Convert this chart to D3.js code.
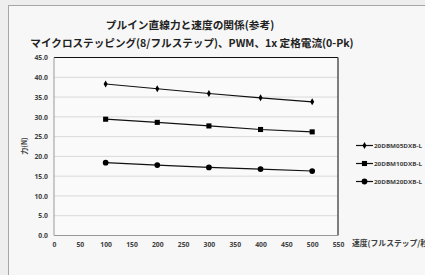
<!DOCTYPE html>
<html>
<head>
<meta charset="utf-8">
<script src="https://cdn.jsdelivr.net/npm/d3@7"></script>
<style>
  html, body { margin: 0; padding: 0; background: #eeeeee; }
  svg { display: block; font-family: "Noto Sans CJK JP", "Noto Sans", sans-serif; }
</style>
</head>
<body>
<svg id="chart" width="425" height="275"></svg>
<script>
// chart values
var speeds = [100, 200, 300, 400, 500];
var series05 = [38.3, 37.1, 35.9, 34.8, 33.8];
var series10 = [29.4, 28.6, 27.7, 26.8, 26.2];
var series20 = [18.4, 17.8, 17.2, 16.8, 16.3];
var seriesNames = ["20DBM05DXB-L", "20DBM10DXB-L", "20DBM20DXB-L"];
var xTicks = [0, 50, 100, 150, 200, 250, 300, 350, 400, 450, 500, 550];
var yTicks = [0, 5, 10, 15, 20, 25, 30, 35, 40, 45];

var svg = d3.select("#chart");

// outer chart frame
svg.append("rect").attr("x", 8.5).attr("y", 5.5).attr("width", 430).attr("height", 280)
	.attr("fill", "#f7f7f7").attr("stroke", "#a6a6a6").attr("stroke-width", 1);

var plot = {left: 54, right: 338, top: 57.5, bottom: 235.5};

var x = d3.scaleLinear().domain([0, 550]).range([plot.left, plot.right]);
var y = d3.scaleLinear().domain([0, 45]).range([plot.bottom, plot.top]);

// plot area
svg.append("rect").attr("x", plot.left).attr("y", plot.top)
	.attr("width", plot.right - plot.left).attr("height", plot.bottom - plot.top)
	.attr("fill", "#fafafa");

// gridlines
svg.append("g").selectAll("line").data(yTicks.slice(1, -1)).enter().append("line")
	.attr("x1", plot.left).attr("x2", plot.right)
	.attr("y1", function(d){ return y(d); }).attr("y2", function(d){ return y(d); })
	.attr("stroke", "#d9d9d9").attr("stroke-width", 1);

// plot borders
svg.append("line").attr("x1", plot.left).attr("x2", plot.right).attr("y1", plot.top).attr("y2", plot.top)
	.attr("stroke", "#111").attr("stroke-width", 1);
svg.append("line").attr("x1", plot.right).attr("x2", plot.right).attr("y1", plot.top).attr("y2", plot.bottom)
	.attr("stroke", "#555").attr("stroke-width", 1.5);
svg.append("line").attr("x1", plot.left).attr("x2", plot.left).attr("y1", plot.top).attr("y2", plot.bottom)
	.attr("stroke", "#999").attr("stroke-width", 1);
svg.append("line").attr("x1", plot.left).attr("x2", plot.right).attr("y1", plot.bottom).attr("y2", plot.bottom)
	.attr("stroke", "#999").attr("stroke-width", 1);

// axes
var xAxis = svg.append("g").attr("transform", "translate(0," + plot.bottom + ")")
	.call(d3.axisBottom(x).tickValues(xTicks).tickSize(0).tickPadding(7).tickFormat(d3.format("d")));
var yAxis = svg.append("g").attr("transform", "translate(" + plot.left + ",0)")
	.call(d3.axisLeft(y).tickValues(yTicks).tickSize(0).tickPadding(6).tickFormat(d3.format(".1f")));
[xAxis, yAxis].forEach(function(a){
	a.select(".domain").remove();
	a.selectAll("text").attr("font-size", 6.8).attr("font-weight", "bold").attr("fill", "#404040")
		.attr("font-family", "'Open Sans', sans-serif");
});

// titles
svg.append("text").attr("x", 190).attr("y", 29).attr("text-anchor", "middle")
	.attr("font-size", 10.7).attr("font-weight", "bold").attr("fill", "#222")
	.text("プルイン直線力と速度の関係(参考)");
svg.append("text").attr("x", 192).attr("y", 47).attr("text-anchor", "middle")
	.attr("font-size", 10.6).attr("font-weight", "bold").attr("fill", "#222")
	.text("マイクロステッピング(8/フルステップ)、PWM、1x 定格電流(0-Pk)");

svg.append("text").attr("transform", "translate(27,146) rotate(-90)").attr("text-anchor", "middle")
	.attr("font-size", 7).attr("font-weight", "bold").attr("fill", "#404040").text("力(N)");
svg.append("text").attr("x", 352).attr("y", 246)
	.attr("font-size", 7.8).attr("font-weight", "bold").attr("fill", "#404040").text("速度(フルステップ/秒)");

// series
var allSeries = [series05, series10, series20];
var shapes = [d3.symbolDiamond, d3.symbolSquare, d3.symbolCircle];
var sizes = [14, 26, 26];
var line = d3.line().x(function(d){ return x(d[0]); }).y(function(d){ return y(d[1]); });

allSeries.forEach(function(vals, i){
	var pts = speeds.map(function(s, j){ return [s, vals[j]]; });
	svg.append("path").datum(pts).attr("d", line).attr("fill", "none")
		.attr("stroke", "#111").attr("stroke-width", 1.2);
	svg.append("g").selectAll("path").data(pts).enter().append("path")
		.attr("transform", function(d){ return "translate(" + x(d[0]) + "," + y(d[1]) + ")"; })
		.attr("d", d3.symbol().type(shapes[i]).size(sizes[i]))
		.attr("fill", "#000");
});

// legend
var legend = svg.append("g").selectAll("g").data(seriesNames).enter().append("g")
	.attr("transform", function(d, i){ return "translate(356," + (145.5 + i * 18) + ")"; });
legend.append("line").attr("x1", 0).attr("x2", 17).attr("stroke", "#111").attr("stroke-width", 1.2);
legend.append("path").attr("transform", "translate(8.5,0)")
	.attr("d", function(d, i){ return d3.symbol().type(shapes[i]).size(sizes[i])(); })
	.attr("fill", "#000");
legend.append("text").attr("x", 18).attr("y", 2.2).attr("font-size", 6).attr("font-weight", "bold")
	.attr("fill", "#404040").attr("textLength", 48).attr("lengthAdjust", "spacingAndGlyphs")
	.attr("font-family", "'Open Sans', sans-serif").text(function(d){ return d; });
</script>
</body>
</html>
